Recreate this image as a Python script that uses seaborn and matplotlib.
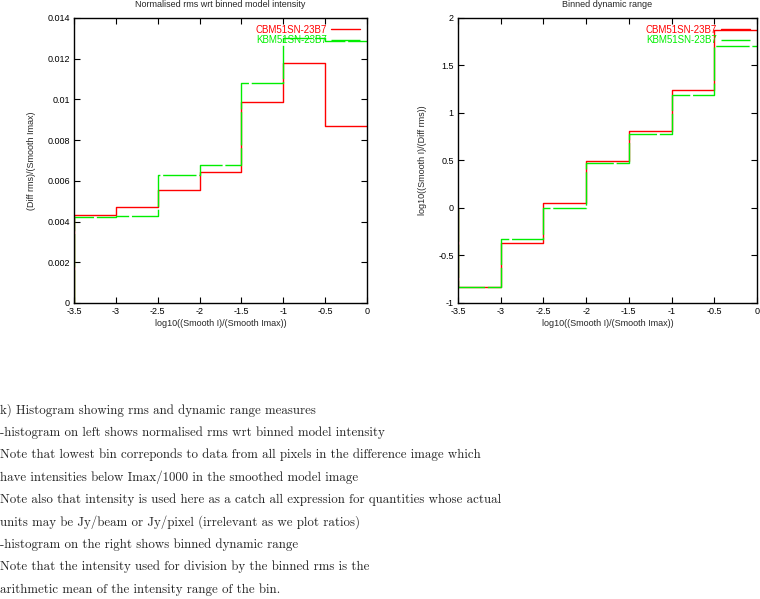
import numpy as np
import pandas as pd
import matplotlib
matplotlib.use('Agg')
from matplotlib import pyplot as plt
import seaborn as sns

# bin edges in log10(I/Imax) and the binned values
bin_left = [-3.5, -3.0, -2.5, -2.0, -1.5, -1.0, -0.5]
bin_end = 0.0
rms_cbm = [0.00434, 0.00469, 0.00557, 0.00645, 0.00985, 0.01178, 0.00867]
rms_kbm = [0.00420, 0.00427, 0.00630, 0.00676, 0.01083, 0.01300, 0.01288]
dr_cbm = [-0.834, -0.369, 0.054, 0.493, 0.814, 1.24, 1.873]
dr_kbm = [-0.834, -0.327, 0.0, 0.476, 0.775, 1.19, 1.70]
names = ['CBM51SN-23B7', 'KBM51SN-23B7']

notes = [
    "k) Histogram showing rms and dynamic range measures",
    "-histogram on left shows normalised rms wrt binned model intensity",
    "Note that lowest bin correponds to data from all pixels in the difference image which",
    "have intensities below Imax/1000 in the smoothed model image",
    "Note also that intensity is used here as a catch all expression for quantities whose actual",
    "units may be Jy/beam or Jy/pixel (irrelevant as we plot ratios)",
    "-histogram on the right shows binned dynamic range",
    "Note that the intensity used for division by the binned rms is the",
    "arithmetic mean of the intensity range of the bin.",
]

sns.set_style('ticks')
plt.rcParams['font.family'] = ['Liberation Sans', 'DejaVu Sans']


def steps(vals):
    # histeps: rise from zero at first edge, hold last value to the end
    x = [bin_left[0]] + bin_left + [bin_end]
    y = [0.0] + list(vals) + [vals[-1]]
    return pd.DataFrame({'x': x, 'y': y})


fig = plt.figure(figsize=(7.6, 5.99), dpi=100)
ax1 = fig.add_axes([0.0974, 0.4942, 0.3855, 0.4758])
ax2 = fig.add_axes([0.6026, 0.4942, 0.3934, 0.4758])

panels = [
    (ax1, rms_cbm, rms_kbm, 'Normalised rms wrt binned model intensity',
     '(Diff rms)/(Smooth Imax)', (0, 0.014), np.arange(0, 0.0141, 0.002)),
    (ax2, dr_cbm, dr_kbm, 'Binned dynamic range',
     'log10((Smooth I)/(Diff rms))', (-1, 2), np.arange(-1, 2.01, 0.5)),
]

for ax, a, b, title, ylab, ylim, yt in panels:
    sns.lineplot(data=steps(a), x='x', y='y', ax=ax, color='#ff0000', lw=1.0,
                 drawstyle='steps-post', estimator=None, sort=False, label=names[0])
    sns.lineplot(data=steps(b), x='x', y='y', ax=ax, color='#00ee00', lw=1.0,
                 drawstyle='steps-post', estimator=None, sort=False, label=names[1],
                 linestyle=(0, (24, 2)))
    ax.set_xlim(-3.5, 0)
    ax.set_ylim(*ylim)
    ax.set_xticks(np.arange(-3.5, 0.01, 0.5))
    ax.set_xticklabels(['-3.5', '-3', '-2.5', '-2', '-1.5', '-1', '-0.5', '0'])
    ax.set_yticks(yt)
    ax.set_yticklabels(['%g' % v for v in np.round(yt, 4)])
    ax.tick_params(direction='in', length=4, width=0.8, top=True, right=True,
                   labelsize=6.5, pad=3, colors='black')
    for s in ax.spines.values():
        s.set_linewidth(1.0)
        s.set_color('black')
    ax.set_title(title, fontsize=6.5, pad=8)
    ax.set_xlabel('log10((Smooth I)/(Smooth Imax))', fontsize=6.5, labelpad=2)
    ax.set_ylabel(ylab, fontsize=6.5, labelpad=8)
    leg = ax.legend(loc='upper right', frameon=False, markerfirst=False,
                    fontsize=7, handlelength=3.0, handletextpad=0.4,
                    labelspacing=0.05, borderaxespad=0.3, labelcolor='linecolor')

for i, line in enumerate(notes):
    fig.text(0.0, 1 - (410 + i * 22.4) / 599, line, fontsize=9.3,
             family='cmr10', va='center', ha='left')

fig.savefig('out.png', dpi=100)
